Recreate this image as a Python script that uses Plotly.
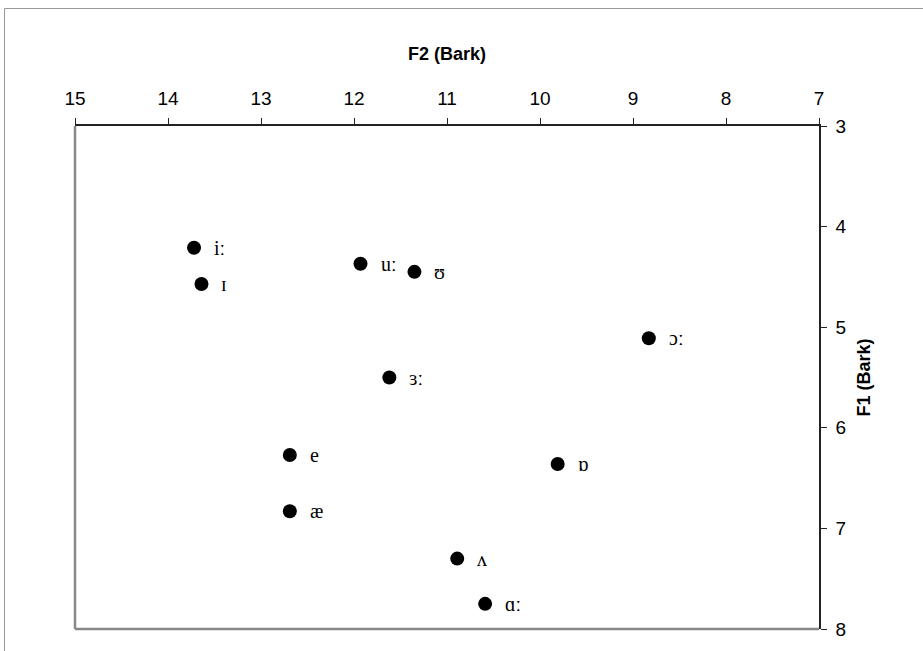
import plotly.graph_objects as go

# Vowel formant means (Bark)
vowels = ["iː", "ɪ", "uː", "ʊ", "ɔː", "ɜː", "e", "ɒ", "æ", "ʌ", "ɑː"]
f2_bark = [13.72, 13.64, 11.93, 11.35, 8.83, 11.62, 12.69, 9.81, 12.69, 10.89, 10.59]
f1_bark = [4.21, 4.57, 4.37, 4.45, 5.11, 5.50, 6.27, 6.36, 6.83, 7.30, 7.75]

x_ticks = [15, 14, 13, 12, 11, 10, 9, 8, 7]
y_ticks = [3, 4, 5, 6, 7, 8]

W, H = 923, 651
L, R, T, B = 75, 104, 126, 22

fig = go.Figure()
fig.add_trace(go.Scatter(
    x=f2_bark, y=f1_bark, mode="markers",
    marker=dict(size=14, color="black", line=dict(width=0)),
    hoverinfo="skip", showlegend=False,
))

# Vowel symbols to the right of each point
for v, x, y in zip(vowels, f2_bark, f1_bark):
    fig.add_annotation(
        x=x, y=y, text=v, showarrow=False, xanchor="left", yanchor="middle",
        xshift=18, yshift=0,
        font=dict(family="Liberation Serif, Times New Roman, serif", size=20, color="black"),
    )

axis_font = dict(family="Liberation Sans, Arial, sans-serif", size=19, color="black")
title_font = dict(family="Liberation Sans, Arial, sans-serif", size=18, color="black")

fig.update_xaxes(
    range=[15, 7], side="top", tickvals=x_ticks, ticktext=[str(t) for t in x_ticks],
    showline=True, linecolor="#222", linewidth=1.5, mirror=False,
    ticks="outside", ticklen=6, tickcolor="#222", tickwidth=1,
    ticklabelstandoff=6,
    showgrid=False, zeroline=False, tickfont=axis_font,
    title=dict(text="<b>F2 (Bark)</b>", font=title_font, standoff=22),
)
fig.update_yaxes(
    range=[8, 3], side="right", tickvals=y_ticks, ticktext=[str(t) for t in y_ticks],
    showline=True, linecolor="#222", linewidth=1.5, mirror=False,
    ticks="outside", ticklen=6, tickcolor="#222", tickwidth=1,
    ticklabelstandoff=5,
    showgrid=False, zeroline=False, tickfont=axis_font,
    title=dict(text="<b>F1 (Bark)</b>", font=title_font, standoff=12),
)

# Gray left and bottom edges of the plot frame
fig.add_shape(type="line", xref="paper", yref="paper", x0=0, x1=0, y0=0, y1=1,
              line=dict(color="#888", width=2.5), layer="above")
fig.add_shape(type="line", xref="paper", yref="paper", x0=0, x1=1, y0=0, y1=0,
              line=dict(color="#888", width=2.5), layer="above")

# Outer chart border (top and left)
pw, ph = W - L - R, H - T - B
def px_to_paper_x(px):
    return (px - L) / pw
def px_to_paper_y(py):
    return (H - B - py) / ph
fig.add_shape(type="line", xref="paper", yref="paper",
              x0=px_to_paper_x(4.5), x1=px_to_paper_x(W), y0=px_to_paper_y(8.5), y1=px_to_paper_y(8.5),
              line=dict(color="#999", width=1))
fig.add_shape(type="line", xref="paper", yref="paper",
              x0=px_to_paper_x(4.5), x1=px_to_paper_x(4.5), y0=px_to_paper_y(8.5), y1=px_to_paper_y(H),
              line=dict(color="#999", width=1))

fig.update_layout(
    width=W, height=H, margin=dict(l=L, r=R, t=T, b=B),
    paper_bgcolor="white", plot_bgcolor="white",
)

fig.write_html("out.html")
